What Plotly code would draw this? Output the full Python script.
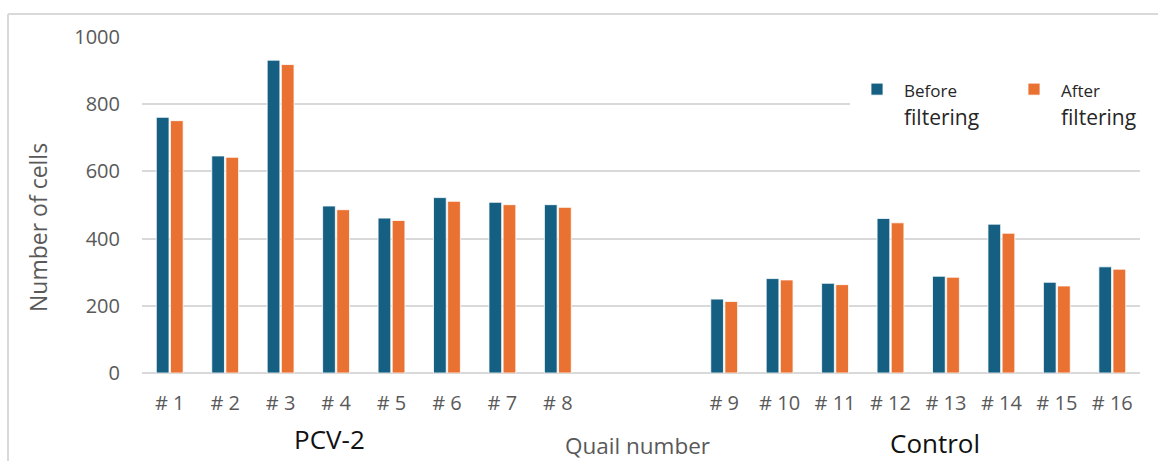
import plotly.graph_objects as go

# ---- data ----
pcv_labels = ["# 1", "# 2", "# 3", "# 4", "# 5", "# 6", "# 7", "# 8"]
ctrl_labels = ["# 9", "# 10", "# 11", "# 12", "# 13", "# 14", "# 15", "# 16"]
spacer_labels = ["\u200b", "\u200b\u200b"]  # empty slots between the two groups

pcv_before = [761, 646, 931, 497, 461, 522, 508, 501]
pcv_after = [751, 642, 918, 486, 454, 511, 501, 493]
ctrl_before = [220, 281, 267, 460, 288, 443, 270, 316]
ctrl_after = [213, 277, 263, 447, 285, 416, 259, 309]

group_names = ["PCV-2", "Control"]
series_names = ["Before filtering", "After filtering"]
x_title = "Quail number"
y_title = "Number of cells"
y_ticks = [0, 200, 400, 600, 800, 1000]

# ---- build ----
categories = pcv_labels + spacer_labels + ctrl_labels
before = pcv_before + [None, None] + ctrl_before
after = pcv_after + [None, None] + ctrl_after

BLUE = "#156082"
ORANGE = "#E97132"
GRID = "#d9d9d9"
GRAYTXT = "#595959"
FONT = "Open Sans"

W, H = 1158, 461
L, R, T, B = 142, 18, 37, 88
pw, ph = W - L - R, H - T - B

def px_x(p):
    return (p - L) / pw

def px_y(p):
    return (H - B - p) / ph

def legend_name(name):
    first, second = name.split(" ", 1)
    return f'<span style="font-size:17px">{first}</span><br>{second}'

fig = go.Figure()
fig.add_trace(go.Bar(
    x=categories, y=before, name=legend_name(series_names[0]),
    marker=dict(color=BLUE, line=dict(color="white", width=0.8)),
))
fig.add_trace(go.Bar(
    x=categories, y=after, name=legend_name(series_names[1]),
    marker=dict(color=ORANGE, line=dict(color="white", width=0.8)),
))

fig.update_layout(
    width=W, height=H,
    margin=dict(l=L, r=R, t=T, b=B, autoexpand=False),
    paper_bgcolor="white", plot_bgcolor="white",
    barmode="group", bargap=0.49, bargroupgap=0.1,
    font=dict(family=FONT, color=GRAYTXT),
    showlegend=True,
    legend=dict(
        orientation="h", x=px_x(850), xanchor="left", y=px_y(69), yanchor="top",
        bgcolor="rgba(255,255,255,1)", font=dict(size=21, color="#262626", family=FONT),
        valign="top", itemwidth=44, entrywidth=98, entrywidthmode="pixels",
        traceorder="normal",
    ),
    xaxis=dict(
        type="category", categoryorder="array", categoryarray=categories,
        range=[-0.5, len(categories) - 0.5],
        tickvals=pcv_labels + ctrl_labels, ticktext=pcv_labels + ctrl_labels,
        showgrid=False, showline=False, zeroline=False, ticks="",
        tickfont=dict(size=20, color=GRAYTXT, family=FONT),
        ticklabelstandoff=16,
    ),
    yaxis=dict(
        range=[0, 1000], tickvals=y_ticks,
        showgrid=True, gridcolor=GRID, gridwidth=2,
        zeroline=True, zerolinecolor=GRID, zerolinewidth=2,
        showline=False, ticks="",
        tickfont=dict(size=20, color=GRAYTXT, family=FONT),
        ticklabelstandoff=21,
    ),
)

ann = []
ann.append(dict(text=y_title, x=px_x(38), y=px_y(228), xref="paper", yref="paper",
                textangle=-90, showarrow=False, font=dict(size=23, color=GRAYTXT, family=FONT),
                xanchor="center", yanchor="middle"))
ann.append(dict(text=group_names[0], x=px_x(329), y=px_y(439), xref="paper", yref="paper",
                showarrow=False, font=dict(size=26, color="#111111", family=FONT),
                xanchor="center", yanchor="middle"))
ann.append(dict(text=group_names[1], x=px_x(935), y=px_y(443), xref="paper", yref="paper",
                showarrow=False, font=dict(size=26, color="#111111", family=FONT),
                xanchor="center", yanchor="middle"))
ann.append(dict(text=x_title, x=px_x(637), y=px_y(446), xref="paper", yref="paper",
                showarrow=False, font=dict(size=22.5, color=GRAYTXT, family=FONT),
                xanchor="center", yanchor="middle"))
fig.update_layout(annotations=ann)

# chart-area frame (partially visible in the reference)
fig.add_shape(type="line", xref="paper", yref="paper",
              x0=px_x(8), x1=px_x(8), y0=px_y(14), y1=px_y(470),
              line=dict(color=GRID, width=2))
fig.add_shape(type="line", xref="paper", yref="paper",
              x0=px_x(8), x1=px_x(1170), y0=px_y(14), y1=px_y(14),
              line=dict(color=GRID, width=2))

fig.write_html(
    "out.html",
    config={"displayModeBar": False},
    post_script="document.body.style.margin='0';document.body.style.overflow='hidden';",
)
